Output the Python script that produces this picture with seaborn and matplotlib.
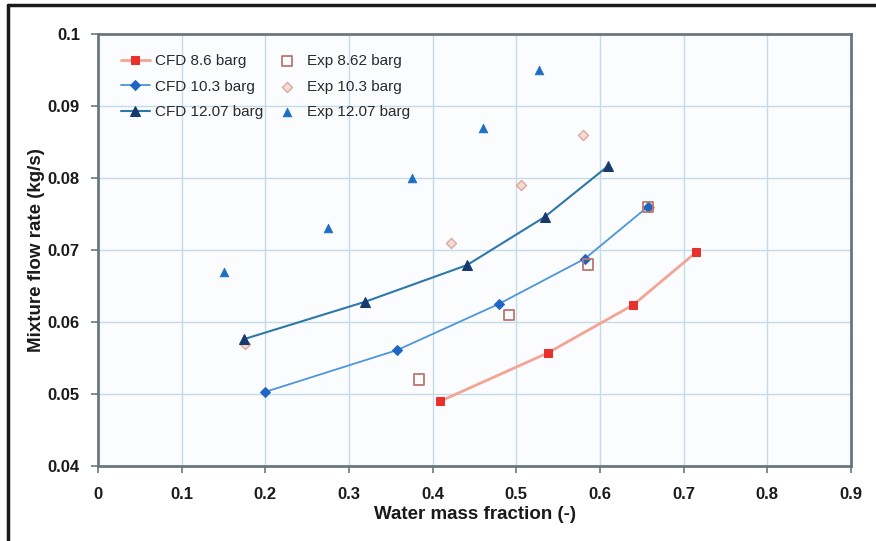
import matplotlib
matplotlib.use("Agg")
import matplotlib.pyplot as plt
from matplotlib.lines import Line2D
import seaborn as sns

# CFD predictions (water mass fraction, mixture flow rate kg/s)
cfd_86_x = [0.409, 0.5375, 0.640, 0.715]
cfd_86_y = [0.0490, 0.0557, 0.0624, 0.0697]
cfd_103_x = [0.200, 0.3576, 0.479, 0.582, 0.657]
cfd_103_y = [0.0503, 0.0561, 0.0625, 0.0688, 0.0760]
cfd_1207_x = [0.174, 0.319, 0.441, 0.534, 0.610]
cfd_1207_y = [0.0576, 0.0628, 0.0679, 0.0746, 0.0817]

# Experimental measurements
exp_862_x = [0.384, 0.491, 0.586, 0.657]
exp_862_y = [0.0520, 0.0610, 0.0680, 0.0760]
exp_103_x = [0.176, 0.422, 0.505, 0.580, 0.658]
exp_103_y = [0.0570, 0.0710, 0.0790, 0.0860, 0.0760]
exp_1207_x = [0.150, 0.275, 0.375, 0.460, 0.527]
exp_1207_y = [0.0670, 0.0730, 0.0800, 0.0870, 0.0950]

x_ticks = [0, 0.1, 0.2, 0.3, 0.4, 0.5, 0.6, 0.7, 0.8, 0.9]
y_ticks = [0.04, 0.05, 0.06, 0.07, 0.08, 0.09, 0.1]
x_tick_labels = ["0", "0.1", "0.2", "0.3", "0.4", "0.5", "0.6", "0.7", "0.8", "0.9"]
y_tick_labels = ["0.04", "0.05", "0.06", "0.07", "0.08", "0.09", "0.1"]

sns.set_theme(style="white")
plt.rcParams["font.family"] = ["Liberation Sans", "DejaVu Sans"]

fig = plt.figure(figsize=(8.76, 5.41), dpi=100)
ax = fig.add_axes([98 / 876, 75 / 541, 753 / 876, 432 / 541])
ax.set_facecolor("#fbfcfe")

sns.lineplot(x=cfd_86_x, y=cfd_86_y, ax=ax, color="#f4a494", lw=2.0,
             marker="s", markersize=6, markerfacecolor="#e8302c",
             markeredgecolor="#e8302c", label="CFD 8.6 barg", sort=False, zorder=3)
sns.lineplot(x=cfd_103_x, y=cfd_103_y, ax=ax, color="#4d96dc", lw=1.3,
             marker="D", markersize=5, markerfacecolor="#1f66c4",
             markeredgecolor="#1f66c4", label="CFD 10.3 barg", sort=False, zorder=3)
sns.lineplot(x=cfd_1207_x, y=cfd_1207_y, ax=ax, color="#2e78a8", lw=1.5,
             marker="^", markersize=7, markerfacecolor="#173a6c",
             markeredgecolor="#173a6c", label="CFD 12.07 barg", sort=False, zorder=4)

sns.scatterplot(x=exp_862_x, y=exp_862_y, ax=ax, marker="s", s=55,
                facecolor="none", edgecolor="#b9786c", linewidth=1.3,
                label="Exp 8.62 barg", zorder=3)
sns.scatterplot(x=exp_103_x, y=exp_103_y, ax=ax, marker="D", s=26,
                color="#f3dcd6", edgecolor="#dca89c", linewidth=1.0,
                label="Exp 10.3 barg", zorder=2)
sns.scatterplot(x=exp_1207_x, y=exp_1207_y, ax=ax, marker="^", s=40,
                color="#1f6fc0", edgecolor="#1f6fc0", linewidth=0.5,
                label="Exp 12.07 barg", zorder=3)

ax.set_xlim(0, 0.9)
ax.set_ylim(0.04, 0.1)
ax.set_xticks(x_ticks)
ax.set_xticklabels(x_tick_labels)
ax.set_yticks(y_ticks)
ax.set_yticklabels(y_tick_labels)
ax.grid(True, color="#c6dbe8", lw=1.0)
ax.set_axisbelow(True)

for side in ax.spines.values():
    side.set_color("#6a787e")
    side.set_linewidth(2.0)

ax.tick_params(axis="both", which="major", direction="out", length=5, width=1.2,
               color="#6a787e", labelsize=12, bottom=True, left=True)
ax.tick_params(axis="x", pad=10)
ax.tick_params(axis="y", pad=8)
for lab in ax.get_xticklabels() + ax.get_yticklabels():
    lab.set_fontweight("bold")
    lab.set_color("#1a1a1a")

ax.set_xlabel("Water mass fraction (-)", fontsize=13.5, fontweight="bold",
              color="#1a1a1a", labelpad=3)
ax.set_ylabel("Mixture flow rate (kg/s)", fontsize=13.5, fontweight="bold",
              color="#1a1a1a", labelpad=2)

handles, labels = ax.get_legend_handles_labels()
leg = ax.legend(handles, labels,
                ncol=2, loc="upper left", bbox_to_anchor=(0.012, 0.985),
                frameon=False, fontsize=11, handlelength=1.9,
                columnspacing=0.6, labelspacing=0.75, handletextpad=0.35)
for t in leg.get_texts():
    t.set_color("#2a2a2a")

# Outer frame lines along the top and left of the figure
fig.add_artist(Line2D([8 / 876, 1.0], [1 - 5 / 541, 1 - 5 / 541],
                      transform=fig.transFigure, color="#1a1a1a", lw=2.5))
fig.add_artist(Line2D([8 / 876, 8 / 876], [0.0, 1 - 5 / 541],
                      transform=fig.transFigure, color="#1a1a1a", lw=2.5))

fig.savefig("out.png", dpi=100)
